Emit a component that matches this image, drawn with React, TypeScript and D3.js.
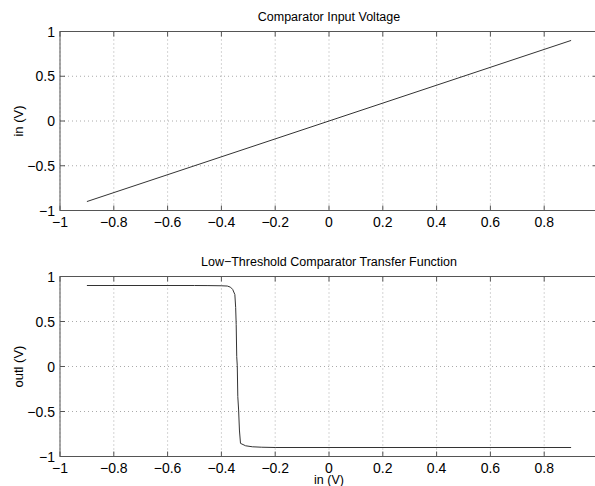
import React from 'react';
import * as d3 from 'd3';

const width = 595;
const height = 486;

// ticks shared by both panels
const xTicks = [-1, -0.8, -0.6, -0.4, -0.2, 0, 0.2, 0.4, 0.6, 0.8, 1];
const xTickLabels = ['−1', '−0.8', '−0.6', '−0.4', '−0.2', '0', '0.2', '0.4', '0.6', '0.8', ''];
const yTicks = [-1, -0.5, 0, 0.5, 1];
const yTickLabels = ['−1', '−0.5', '0', '0.5', '1'];

// top panel: the input sweep
const sweepX = [-0.9, 0.9];
const sweepIn = [-0.9, 0.9];

// bottom panel: comparator output vs input
const inV = [-0.9, -0.5, -0.45, -0.4, -0.378, -0.366, -0.358, -0.35, -0.347, -0.345, -0.343, -0.341,
  -0.339, -0.336, -0.333, -0.329, -0.31, -0.285, -0.25, -0.2, 0.9];
const outlV = [0.9, 0.9, 0.899, 0.897, 0.894, 0.881, 0.856, 0.8, 0.655, 0.465, 0.11, 0.008,
  -0.335, -0.483, -0.706, -0.854, -0.881, -0.892, -0.897, -0.9, -0.9];

const left = 60;
const right = 598;
const font = '"Liberation Sans", Arial, Helvetica, sans-serif';
const axisColor = '#555';

const Panel = ({ top, bottom, title, yLabel, xLabel, xs, ys }) => {
  const x = d3.scaleLinear().domain([-1, 1]).range([left, right]);
  const y = d3.scaleLinear().domain([-1, 1]).range([bottom, top]);
  const line = d3.line().x((d) => x(d[0])).y((d) => y(d[1]));
  const pts = xs.map((v, i) => [v, ys[i]]);
  const tickLen = 5;
  return (
    <g fontFamily={font}>
      {/* grid */}
      {xTicks.map((t) => (
        <line key={'gx' + t} x1={x(t)} x2={x(t)} y1={top} y2={bottom}
          stroke="#aaa" strokeWidth={1} strokeDasharray="1,3" />
      ))}
      {yTicks.map((t) => (
        <line key={'gy' + t} x1={left} x2={right} y1={y(t)} y2={y(t)}
          stroke="#aaa" strokeWidth={1} strokeDasharray="1,3" />
      ))}
      {/* box */}
      <rect x={left} y={top} width={right - left} height={bottom - top}
        fill="none" stroke={axisColor} strokeWidth={1} />
      {/* ticks */}
      {xTicks.map((t) => (
        <g key={'tx' + t} stroke={axisColor}>
          <line x1={x(t)} x2={x(t)} y1={bottom} y2={bottom - tickLen} />
          <line x1={x(t)} x2={x(t)} y1={top} y2={top + tickLen} />
        </g>
      ))}
      {yTicks.map((t) => (
        <g key={'ty' + t} stroke={axisColor}>
          <line x1={left} x2={left + tickLen} y1={y(t)} y2={y(t)} />
          <line x1={right} x2={right - tickLen} y1={y(t)} y2={y(t)} />
        </g>
      ))}
      {/* tick labels */}
      {xTicks.map((t, i) => (
        <text key={'lx' + t} x={x(t)} y={bottom + 16} fontSize={14} textAnchor="middle" fill="#000">
          {xTickLabels[i]}
        </text>
      ))}
      {yTicks.map((t, i) => (
        <text key={'ly' + t} x={left - 5} y={y(t)} dy="0.36em" fontSize={14} textAnchor="end" fill="#000">
          {yTickLabels[i]}
        </text>
      ))}
      <text x={(left + right) / 2} y={top - 10.5} fontSize={12.5} textAnchor="middle" fill="#000">{title}</text>
      <text transform={`translate(23, ${(top + bottom) / 2}) rotate(-90)`} fontSize={13} textAnchor="middle" fill="#000">
        {yLabel}
      </text>
      {xLabel && (
        <text x={(left + right) / 2} y={bottom + 27} fontSize={12.5} textAnchor="middle" fill="#000">{xLabel}</text>
      )}
      <path d={line(pts)} fill="none" stroke="#333" strokeWidth={1} />
    </g>
  );
};

export default function App() {
  return (
    <svg width={width} height={height} viewBox={`0 0 ${width} ${height}`}
      style={{ position: 'absolute', left: 0, top: 0, background: '#fff' }}>
      <rect width={width} height={height} fill="#fff" />
      <Panel top={31.5} bottom={210.5} title="Comparator Input Voltage" yLabel="in (V)"
        xs={sweepX} ys={sweepIn} />
      <Panel top={276.5} bottom={456.5} title="Low−Threshold Comparator Transfer Function" yLabel="outl (V)"
        xLabel="in (V)" xs={inV} ys={outlV} />
    </svg>
  );
}
